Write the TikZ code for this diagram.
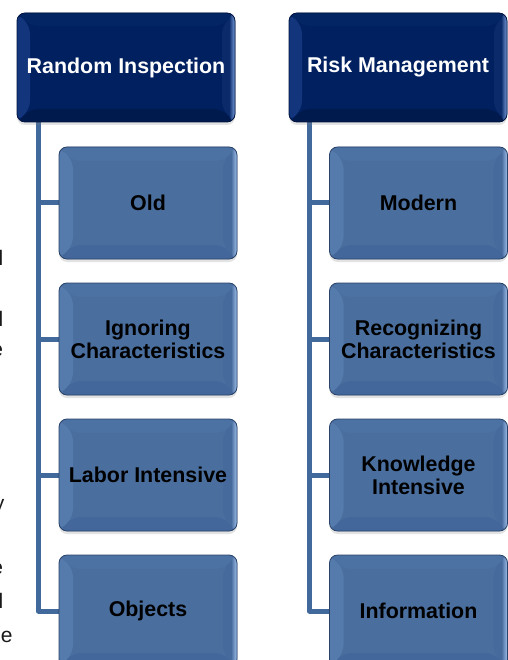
\documentclass[tikz,border=0pt]{standalone}
\usepackage{fontspec}
\setmainfont{Liberation Sans}
\usetikzlibrary{backgrounds,shadows}

% palette
\definecolor{navy}{HTML}{002060}
\definecolor{navyL}{HTML}{12357C}
\definecolor{navyT}{HTML}{042564}
\definecolor{navyR}{HTML}{0A2A6A}
\definecolor{navyB}{HTML}{001A4E}
\definecolor{navyHi}{HTML}{7A9FDC}
\definecolor{navyRim}{HTML}{00153F}
\definecolor{steel}{HTML}{4A6F9F}
\definecolor{steelL}{HTML}{547BAC}
\definecolor{steelT}{HTML}{4C72A3}
\definecolor{steelR}{HTML}{466A9C}
\definecolor{steelB}{HTML}{44679B}
\definecolor{steelHi}{HTML}{A2C2EC}
\definecolor{steelRim}{HTML}{2A436A}
\definecolor{linkblue}{HTML}{41699C}
\definecolor{inkgrey}{HTML}{1A1A1A}

% bevelled face inside a tile:
% #1 bevel width, #2 left, #3 top, #4 right, #5 bottom, #6 rim highlight
\newcommand\bevelart[6]{%
  \path (path picture bounding box.north west) coordinate (pNW)
        (path picture bounding box.north east) coordinate (pNE)
        (path picture bounding box.south west) coordinate (pSW)
        (path picture bounding box.south east) coordinate (pSE);
  \fill[#3] (pNW) -- (pNE) -- ([shift={(-#1,-#1)}]pNE) -- ([shift={(#1,-#1)}]pNW) -- cycle;
  \fill[#5] (pSW) -- (pSE) -- ([shift={(-#1,#1)}]pSE) -- ([shift={(#1,#1)}]pSW) -- cycle;
  \fill[#2] (pNW) -- ([shift={(#1,-#1)}]pNW) -- ([shift={(#1,#1)}]pSW) -- (pSW) -- cycle;
  \fill[#4] (pNE) -- ([shift={(-#1,-#1)}]pNE) -- ([shift={(-#1,#1)}]pSE) -- (pSE) -- cycle;
  \shade[left color=#4, right color=#6] ([xshift=-6pt]pNE) rectangle (pSE);
}

\tikzset{
  tile/.style={rounded corners=8pt, inner sep=0pt, align=center,
    font=\bfseries\fontsize{21.4}{23}\selectfont, line width=0.8pt,
    drop shadow={shadow xshift=0pt, shadow yshift=-3pt, opacity=0.22}},
  headtile/.style={tile, minimum width=218pt, minimum height=109pt,
    fill=navy, draw=navyRim, text=white,
    path picture={\bevelart{13pt}{navyL}{navyT}{navyR}{navyB}{navyHi}}},
  subtile/.style={tile, minimum width=178pt, minimum height=112pt,
    fill=steel, draw=steelRim, text=black,
    path picture={\bevelart{14pt}{steelL}{steelT}{steelR}{steelB}{steelHi}}},
  link/.style={draw=linkblue, line width=5pt, line join=round},
  margintext/.style={anchor=base east, inner sep=0pt, text=inkgrey,
    font=\fontsize{21}{24}\selectfont}
}

\begin{document}
\begin{tikzpicture}[x=1pt, y=-1pt]
  \useasboundingbox (0,0) rectangle (507,660);
  \begin{scope}[on background layer]
    \fill[white] (0,0) rectangle (507,660);
  \end{scope}

  % line ends of the neighbouring paragraph
  \node[margintext] (m1) at (3.5,265) {l};
  \node[margintext] (m2) at (3.5,326) {l};
  \node[margintext] (m3) at (3.2,356) {e};
  \node[margintext] (m4) at (4.5,510) {y};
  \node[margintext] (m5) at (3.2,574) {e};
  \node[margintext] (m6) at (3.5,608) {l};
  \node[margintext] (m7) at (12.8,642) {e};

  % column headers
  \node[headtile] (h1) at (126,67.5) {\raisebox{-2pt}{Random Inspection}};
  \node[headtile] (h2) at (398,67.5) {\raisebox{-2pt}{Risk Management}};

  % left column
  \node[subtile] (a1) at (148,203) {Old};
  \node[subtile] (a2) at (148,339) {Ignoring\\Characteristics};
  \node[subtile] (a3) at (148,475) {Labor Intensive};
  \node[subtile] (a4) at (148,611) {Objects};

  % right column
  \node[subtile] (b1) at (418.5,203) {Modern};
  \node[subtile] (b2) at (418.5,339) {Recognizing\\Characteristics};
  \node[subtile] (b3) at (418.5,475) {Knowledge\\Intensive};
  \node[subtile] (b4) at (418.5,611) {Information};

  % tree connectors behind the tiles
  \begin{scope}[on background layer]
    \foreach \c in {a1,a2,a3,a4}
      \draw[link] ([xshift=22pt]h1.south west) |- (\c.west);
    \foreach \c in {b1,b2,b3,b4}
      \draw[link] ([xshift=21pt]h2.south west) |- (\c.west);
  \end{scope}
\end{tikzpicture}
\end{document}
